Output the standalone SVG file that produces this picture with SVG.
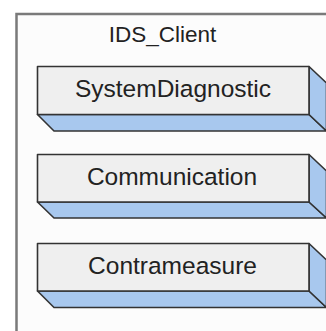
<svg xmlns="http://www.w3.org/2000/svg" width="326" height="331" viewBox="0 0 326 331">
  <defs>
    <style>
      .frame { fill: #fcfcfc; stroke: #7a7a7a; stroke-width: 2.5; }
      .front { fill: #efefef; stroke: #333333; stroke-width: 1.6; stroke-linejoin: round; }
      .depth { fill: #a8c8ee; stroke: #333333; stroke-width: 1.6; stroke-linejoin: round; }
      .title { font-family: "Liberation Sans", Arial, sans-serif; font-size: 22.5px; fill: #222222; text-anchor: middle; }
      .label { font-family: "Liberation Sans", Arial, sans-serif; font-size: 24.5px; fill: #222222; text-anchor: middle; }
    </style>
  </defs>
  <rect width="326" height="331" fill="#ffffff"/>

  <!-- package frame -->
  <g id="IDS_Client">
    <rect class="frame" x="16.5" y="14" width="340" height="340"/>
    <text class="title" x="162.5" y="42">IDS_Client</text>
  </g>

  <!-- 3D component blocks: bottom face, side face, front face -->
  <g id="SystemDiagnostic">
    <polygon class="depth" points="37.5,114.5 54,131 326.5,131 309,114.5"/>
    <polygon class="depth" points="309,66.5 326.5,83 326.5,131 309,114.5"/>
    <rect class="front" x="37.5" y="66.5" width="271.5" height="48"/>
    <text class="label" x="173" y="97">SystemDiagnostic</text>
  </g>

  <g id="Communication">
    <polygon class="depth" points="37.5,202 54,218 326.5,218 309,202"/>
    <polygon class="depth" points="309,154.5 326.5,171 326.5,218 309,202"/>
    <rect class="front" x="37.5" y="154.5" width="271.5" height="47.5"/>
    <text class="label" x="172" y="185">Communication</text>
  </g>

  <g id="Contrameasure">
    <polygon class="depth" points="37.5,291 54,307.5 326.5,307.5 309,291"/>
    <polygon class="depth" points="309,243.5 326.5,260 326.5,307.5 309,291"/>
    <rect class="front" x="37.5" y="243.5" width="271.5" height="47.5"/>
    <text class="label" x="172.5" y="273.5">Contrameasure</text>
  </g>

  <g id="connectors"></g>
</svg>
